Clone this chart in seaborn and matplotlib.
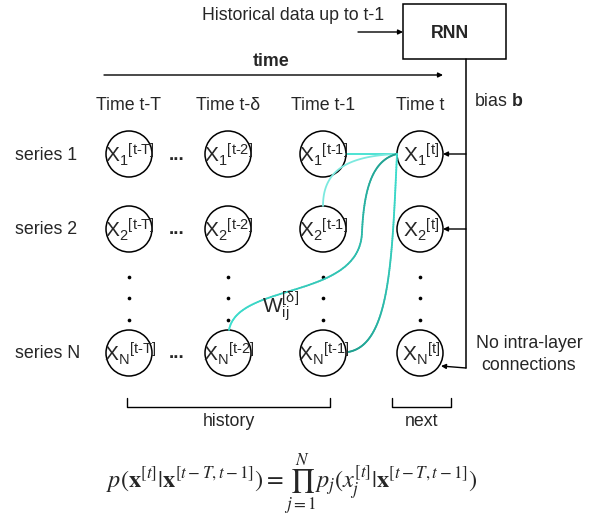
"""Multivariate time series RNN diagram (redrawn with matplotlib + seaborn)."""

import matplotlib.pyplot as plt
import numpy as np
import seaborn as sns
from matplotlib.collections import LineCollection
from matplotlib.colors import to_rgb
from matplotlib.patches import Circle, Rectangle

# --- diagram content -------------------------------------------------------
time_labels = ["Time t-T", "Time t-\u03b4", "Time t-1", "Time t"]
time_sups = ["t-T", "t-2", "t-1", "t"]
series_labels = ["series 1", "series 2", "series N"]
series_subs = ["1", "2", "N"]

col_x = [129, 228, 323, 420]
row_y = [154, 229, 353]
dot_y = [277, 298, 320]
R = 23
FS = 12.8

CYAN = "#3fe0d0"
PALE = "#7ce9df"
DARK = "#1f9e8e"

sns.set_theme(style="white")
plt.rcParams["font.family"] = ["Liberation Sans", "DejaVu Sans"]
plt.rcParams["mathtext.fontset"] = "custom"
plt.rcParams["mathtext.rm"] = "Liberation Sans"
plt.rcParams["mathtext.it"] = "Liberation Sans:italic"
plt.rcParams["mathtext.bf"] = "Liberation Sans:bold"


def bezier(p0, p1, p2, p3, n=80):
    t = np.linspace(0, 1, n)[:, None]
    p0, p1, p2, p3 = (np.array(p, dtype=float) for p in (p0, p1, p2, p3))
    return (1 - t) ** 3 * p0 + 3 * (1 - t) ** 2 * t * p1 + 3 * (1 - t) * t ** 2 * p2 + t ** 3 * p3


def gradient_line(ax, pts, c0, c1, lw=1.3):
    segs = np.stack([pts[:-1], pts[1:]], axis=1)
    a, b = np.array(to_rgb(c0)), np.array(to_rgb(c1))
    f = np.linspace(0, 1, len(segs))[:, None]
    ax.add_collection(LineCollection(segs, colors=a * (1 - f) + b * f, linewidths=lw, capstyle="round"))


def arrow(ax, start, end, lw=1.0):
    ax.annotate("", xy=end, xytext=start,
                arrowprops=dict(arrowstyle="-|>", lw=lw, color="black", mutation_scale=7,
                                shrinkA=0, shrinkB=0))


fig = plt.figure(figsize=(5.96, 5.17), dpi=100)
ax = fig.add_axes([0, 0, 1, 1])

# RNN box and inputs
ax.add_patch(Rectangle((403, 4), 103, 55, fill=False, ec="black", lw=1.1))
ax.text(450, 33, "RNN", fontsize=FS, fontweight="bold", ha="center", va="center")
ax.text(202, 15, "Historical data up to t-1", fontsize=FS, ha="left", va="center")
arrow(ax, (358, 32), (403, 32))

# time axis
ax.text(271, 62, "time", fontsize=FS, fontweight="bold", ha="center", va="center")
arrow(ax, (104, 75), (443, 75))
for x, lab in zip(col_x, time_labels):
    ax.text(x, 106, lab, fontsize=FS, ha="center", va="center")
ax.text(474, 101, r"bias $\mathbf{b}$", fontsize=FS, ha="left", va="center")

# bias line down the right side
ax.plot([466, 466], [59, 368], color="black", lw=1.1)
arrow(ax, (466, row_y[0]), (col_x[3] + R, row_y[0]))
arrow(ax, (466, row_y[1]), (col_x[3] + R, row_y[1]))
arrow(ax, (466, 368), (441, 366))

# connections into X_1^[t]
hub = (397, 154)
ax.plot([col_x[2] + R, hub[0]], [row_y[0], hub[1]], color=CYAN, lw=1.3)
ax.plot(*bezier((col_x[2], row_y[1] - R), (323, 172), (345, 156), hub).T, color=PALE, lw=1.3)
curve_a = np.vstack([bezier(hub, (372, 160), (364, 190), (362, 232), 50),
                     bezier((362, 232), (360, 300), (238, 282), (229, row_y[2] - R), 80)])
gradient_line(ax, curve_a, DARK, CYAN)
curve_b = bezier(hub, (392, 260), (390, 345), (348, 352), 120)
gradient_line(ax, curve_b, CYAN, DARK)
ax.text(262, 307, r"$\mathrm{W}_{\mathrm{ij}}^{\mathrm{[\delta]}}$", fontsize=15, ha="left", va="center")

# nodes
for sub, ylab, y in zip(series_subs, series_labels, row_y):
    ax.text(15, y + 1, ylab, fontsize=FS, ha="left", va="center")
    for x, sup in zip(col_x, time_sups):
        ax.add_patch(Circle((x, y), R, fill=False, ec="black", lw=1.1))
        lab = r"${\mathrm{X}_{\mathrm{%s}}}^{\mathrm{[%s]}}$" % (sub, sup.replace("-", r"\text{-}"))
        ax.text(x + 1, y + 1, lab, fontsize=15, ha="center", va="center")
    ax.text(177, y + 1, "...", fontsize=13.5, fontweight="bold", ha="center", va="center")

dots = [(x, y) for x in col_x for y in dot_y]
sns.scatterplot(x=[d[0] for d in dots], y=[d[1] for d in dots], ax=ax, color="black",
                s=7, linewidth=0, legend=False)

ax.text(529, 344, "No intra-layer", fontsize=FS, ha="center", va="center")
ax.text(529, 366, "connections", fontsize=FS, ha="center", va="center")

# brackets
for x0, x1, lab in [(127, 330, "history"), (392, 451, "next")]:
    ax.plot([x0, x0, x1, x1], [398, 407, 407, 398], color="black", lw=1.0)
    ax.text((x0 + x1) / 2, 422, lab, fontsize=FS, ha="center", va="center")

# likelihood factorisation
ax.text(292, 484,
        r"$p(\mathbf{x}^{[t]}|\mathbf{x}^{[t-T,t-1]}) = \prod_{j=1}^{N} p_j(x_j^{[t]}|\mathbf{x}^{[t-T,t-1]})$",
        fontsize=17.5, ha="center", va="center", math_fontfamily="stix")

ax.set_xlim(0, 596)
ax.set_ylim(517, 0)
ax.axis("off")
fig.savefig("out.png", dpi=100)
